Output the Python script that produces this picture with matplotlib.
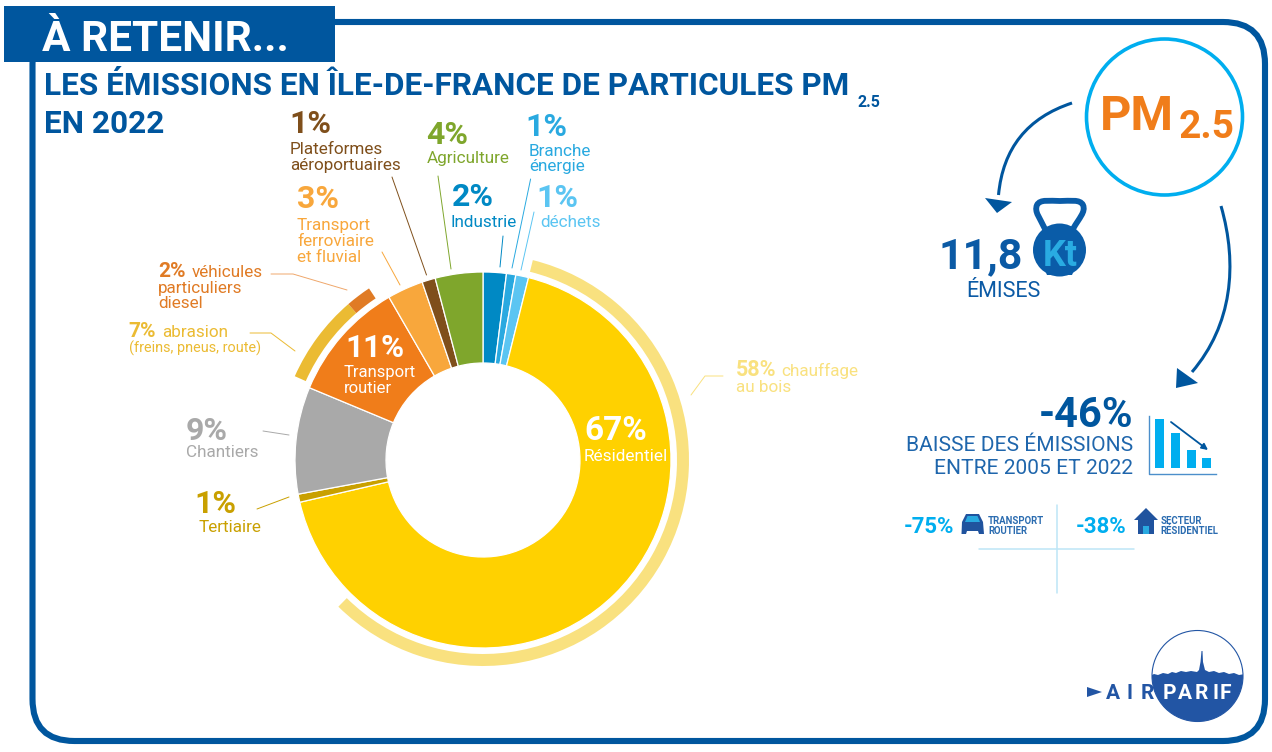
import matplotlib
matplotlib.use("Agg")
import matplotlib.pyplot as plt
from matplotlib.patches import Circle, FancyBboxPatch, PathPatch, Polygon, Rectangle
from matplotlib.path import Path

plt.rcParams['font.family'] = ['Roboto', 'DejaVu Sans']

# main ring, clockwise from the top
sectors = ['Industrie', 'Branche énergie', 'déchets', 'Résidentiel', 'Tertiaire', 'Chantiers',
           'Transport routier', 'Transport ferroviaire et fluvial', 'Plateformes aéroportuaires', 'Agriculture']
shares = [2.0, 0.8, 1.1, 67.6, 0.7, 9.2, 10.4, 3.1, 1.15, 4.1]
sector_colors = ['#0089C4', '#29A9E0', '#5BC5F2', '#FFD100', '#C9A000', '#A9A9A9',
                 '#F07D1A', '#F8A73C', '#7F4F1B', '#7FA62C']

# thin outer arcs
wood_share = [58.5, 41.5]
road_detail = [7, 2, 91]

# small bar icon
icon_bars = [49, 35, 18, 10]

BLUE = '#00569E'
CYAN = '#00AEEF'
LOGO = '#2255A4'

fig = plt.figure(figsize=(12.72, 7.52), dpi=100, facecolor='white')
ax = fig.add_axes([0, 0, 1, 1])

cx, cy = 483, 752 - 460


def Y(y):
    return 752 - y


def put(x, y, s, size, color, weight='normal', ha='left', **kw):
    return ax.text(x, Y(y), s, fontsize=size, color=color, fontweight=weight, ha=ha, va='baseline', **kw)


def leader(xs, ys, color, lw=0.7):
    ax.plot(xs, [Y(v) for v in ys], color=color, lw=lw, solid_capstyle='round', zorder=2)


def poly(points, color, zorder=3):
    ax.add_patch(Polygon([(a, Y(b)) for a, b in points], closed=True, fc=color, ec='none', zorder=zorder))


def curve(points, codes, color, lw):
    path = Path([(a, Y(b)) for a, b in points], codes)
    ax.add_patch(PathPatch(path, fc='none', ec=color, lw=lw, capstyle='butt', zorder=3))


# donut
ax.pie(shares, colors=sector_colors, startangle=90, counterclock=False, center=(cx, cy), radius=188,
       wedgeprops=dict(width=91, edgecolor='white', linewidth=0.9))
ax.pie(wood_share, colors=['#F9E17F', 'none'], startangle=90 - 14, counterclock=False, center=(cx, cy), radius=206,
       wedgeprops=dict(width=12))
ax.pie(road_detail, colors=['#EBBB33', '#E07B25', 'none'], startangle=90 + 66, counterclock=False, center=(cx, cy),
       radius=206, wedgeprops=dict(width=12))

ax.set_xlim(0, 1272)
ax.set_ylim(0, 752)
ax.set_aspect('equal')
ax.axis('off')

# frame and banner
ax.add_patch(FancyBboxPatch((32.5 + 42, Y(741) + 42), 1265 - 32.5 - 84, 741 - 22 - 84,
                            boxstyle='round,pad=42,rounding_size=42', fc='none', ec=BLUE, lw=4.4, zorder=1))
ax.add_patch(Rectangle((4, Y(62)), 331, 56, fc=BLUE, ec='none', zorder=2))
put(42, 51, 'À RETENIR...', 30.5, 'white', 'bold', zorder=4)

put(44, 95, 'LES ÉMISSIONS EN ÎLE-DE-FRANCE DE PARTICULES PM', 22.7, BLUE, 'bold')
put(858, 107, '2.5', 11.5, BLUE, 'bold')
put(44, 133, 'EN 2022', 22.7, BLUE, 'bold')

# labels round the donut
c = '#7F4F1B'
put(289, 133, '1%', 23, c, 'bold')
put(290, 154, 'Plateformes', 12.3, c)
put(290, 170, 'aéroportuaires', 12.3, c)
leader([392, 426.5], [177, 275], c)

c = '#7FA62C'
put(426, 144, '4%', 23, c, 'bold')
put(427, 163, 'Agriculture', 12.3, c)
leader([438, 451], [176, 269], c)

c = '#29A9E0'
put(525, 136, '1%', 23, c, 'bold')
put(529, 156, 'Branche', 12.3, c)
put(529, 171, 'énergie', 12.3, c)
leader([530.6, 512], [179, 268], c)

c = '#0089C4'
put(452, 206, '2%', 23, c, 'bold')
put(451, 227, 'Industrie', 12.3, c)
leader([503, 500], [236, 267], c)

c = '#5BC5F2'
put(536, 207, '1%', 23, c, 'bold')
put(540, 227, 'déchets', 12.3, c)
leader([534, 521], [212, 270], c)

c = '#F8A73C'
put(297, 208, '3%', 23, c, 'bold')
put(297, 230, 'Transport', 12.3, c)
put(297, 246, 'ferroviaire', 12.3, c)
put(297, 262, 'et fluvial', 12.3, c)
leader([382, 400], [252, 285], c)

c = '#E07B25'
put(158, 277, '2%', 15, c, 'bold')
put(192, 277, 'véhicules', 12.3, c)
put(158, 293, 'particuliers', 12.3, c)
put(158, 308, 'diesel', 12.3, c)
leader([271, 293, 347], [274, 274, 290], '#EFA76B')

c = '#EBBB33'
put(128, 337, '7%', 15, c, 'bold')
put(162, 337, 'abrasion', 12.3, c)
put(129, 353, '(freins, pneus, route)', 10.4, c)
leader([250, 271, 295], [333, 333, 351], c)

c = '#F9E17F'
put(736, 376, '58%', 15.5, c, 'bold')
put(781, 376, 'chauffage', 12.3, c)
put(736, 392, 'au bois', 12.3, c)
leader([723, 705, 691], [376, 376, 395], c)

c = '#A9A9A9'
put(186, 440, '9%', 23, c, 'bold')
put(186, 457, 'Chantiers', 12.3, c)
leader([263, 289], [431, 435], c)

c = '#C9A000'
put(194, 513, '1%', 23, c, 'bold')
put(199, 532, 'Tertiaire', 12.3, c)
leader([257, 289], [509, 497], c)

put(616, 440, '67%', 24, 'white', 'bold', ha='center', zorder=5)
put(626, 461, 'Résidentiel', 12.4, 'white', ha='center', zorder=5)
put(375, 357, '11%', 22.5, 'white', 'bold', ha='center', zorder=5)
put(344, 377, 'Transport', 12, 'white', zorder=5)
put(344, 393, 'routier', 12, 'white', zorder=5)

# PM2.5 circle and the two arrows
ax.add_patch(Circle((1164.5, Y(117)), 78, fc='white', ec=CYAN, lw=2.6, zorder=2))
put(1100, 130, 'PM', 35, '#F07D1A', 'bold', zorder=4)
put(1179, 138, '2.5', 28, '#F07D1A', 'bold', zorder=4)

curve([(1072, 103), (1005, 125), (998.5, 195)], [Path.MOVETO, Path.CURVE3, Path.CURVE3], BLUE, 2.2)
poly([(985, 198), (1012, 202), (997, 213)], BLUE)
curve([(1221, 206), (1238, 265), (1232, 325), (1192, 372)],
      [Path.MOVETO, Path.CURVE4, Path.CURVE4, Path.CURVE4], BLUE, 2.2)
poly([(1177, 368), (1198, 383), (1176, 388)], BLUE)

# kettlebell
ax.add_patch(Circle((1059.5, Y(250)), 26.5, fc='#0A5CA8', ec='none', zorder=3))
poly([(1044, 268), (1075, 268), (1072, 275), (1047, 275)], '#0A5CA8')
handle = [(1045, 229), (1040, 218), (1034, 212), (1037, 205), (1040, 199), (1050, 201), (1060, 201),
          (1070, 201), (1080, 199), (1083, 205), (1086, 212), (1079, 218), (1073, 229)]
curve(handle, [Path.MOVETO] + [Path.CURVE4] * 12, '#0A5CA8', 4.2)
put(1060.5, 266, 'Kt', 26, '#29ABE2', 'bold', ha='center', zorder=5)
put(1023, 268, '11,8', 31, '#0B5AA5', 'bold', ha='right')
put(1003.5, 297, 'ÉMISES', 15.5, '#0B5AA5', ha='center')

# -46 %
put(1133, 427, '-46%', 30, BLUE, 'bold', ha='right')
put(1133, 451, 'BAISSE DES ÉMISSIONS', 15.1, '#1F66AC', ha='right')
put(1133, 474, 'ENTRE 2005 ET 2022', 15.1, '#1F66AC', ha='right')

ax.plot([1149, 1149, 1216], [Y(416), Y(474), Y(474)], color='#4C8FCB', lw=1)
ax.bar([1159, 1175, 1191, 1206.5], icon_bars, width=9, bottom=Y(468), color=CYAN, align='center')
ax.annotate('', xy=(1208, Y(450)), xytext=(1171, Y(422)),
            arrowprops=dict(arrowstyle='-|>', color=BLUE, lw=1.3, mutation_scale=9, shrinkA=0, shrinkB=0))

# sub figures
put(904, 533, '-75%', 16, CYAN, 'bold')
put(988, 524, 'TRANSPORT', 6.9, '#2B6CB0', 'bold')
put(988, 534, 'ROUTIER', 6.9, '#2B6CB0', 'bold')
poly([(966, 514), (979, 514), (983, 522), (984, 534), (979, 534), (978, 531), (967, 531), (966, 534),
      (961.5, 534), (962, 522)], '#20539E')
poly([(967.5, 516), (977.5, 516), (980, 522), (965, 522)], '#29A9E0', 4)

put(1076, 533, '-38%', 16, CYAN, 'bold')
put(1160.5, 524, 'SECTEUR', 6.9, '#2B6CB0', 'bold')
put(1160.5, 534, 'RÉSIDENTIEL', 6.9, '#2B6CB0', 'bold')
poly([(1146, 508), (1158, 520), (1154, 520), (1154, 534), (1138, 534), (1138, 520), (1134, 520)], '#20539E')
poly([(1143, 526), (1149, 526), (1149, 534), (1143, 534)], '#29A9E0', 4)

leader([1056.8, 1056.8], [505, 593], '#BDE6F7', 1.1)
leader([979, 1134], [549, 549], '#BDE6F7', 1.1)

# logo
logo = Circle((1197.5, Y(676)), 45.5, fc='white', ec=LOGO, lw=0.8, zorder=2)
ax.add_patch(logo)
skyline = Polygon([(a, Y(b)) for a, b in [
    (1150, 676), (1154, 674), (1158, 675), (1163, 673), (1168, 674), (1172, 672), (1176, 673), (1181, 671),
    (1186, 672), (1191, 671), (1197, 672), (1199, 670), (1200.5, 662), (1201.5, 651), (1202.5, 651), (1203, 662),
    (1205, 670), (1209, 672), (1214, 671), (1219, 673), (1224, 672), (1229, 674), (1234, 673), (1239, 675),
    (1245, 674), (1245, 725), (1150, 725)]],
    closed=True, fc=LOGO, ec='none', zorder=3)
ax.add_patch(skyline)
skyline.set_clip_path(logo)
for lx, ch in zip([1163, 1178, 1195, 1212, 1220], 'PARIF'):
    put(lx, 699, ch, 15, 'white', 'bold', zorder=5)
for lx, ch in zip([1106, 1127, 1141], 'AIR'):
    put(lx, 699, ch, 15, LOGO, 'bold', zorder=5)
poly([(1087, 687), (1102, 692), (1087, 697)], LOGO)

fig.savefig('out.png', dpi=100, facecolor='white')
